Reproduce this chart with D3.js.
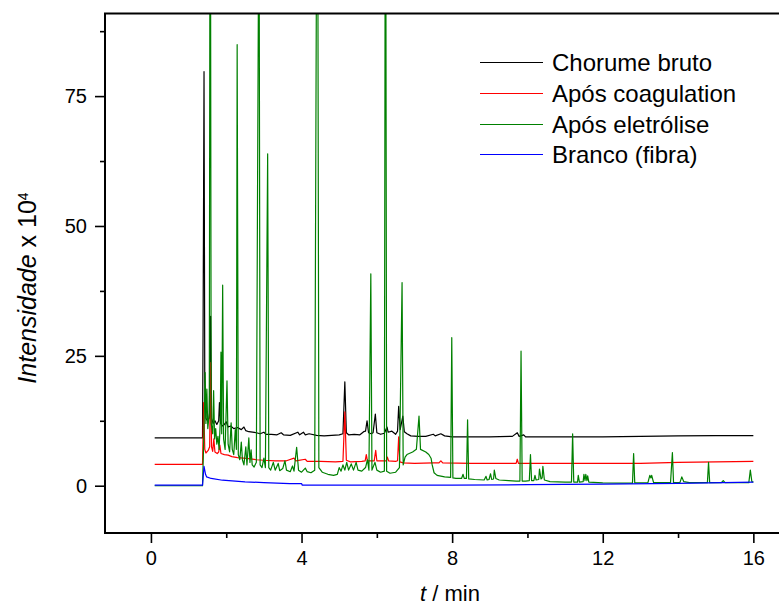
<!DOCTYPE html>
<html>
<head>
<meta charset="utf-8">
<script src="https://cdn.jsdelivr.net/npm/d3@7"></script>
<style>
  body { margin: 0; background: #fff; }
  text { font-family: "Liberation Sans", Arial, sans-serif; }
</style>
</head>
<body>
<div id="chart"></div>
<script>
// chromatogram traces, [t (min), intensity x 10^4]
var chorumeBruto = [
  [0.1,9.2],[1.37,9.2],[1.385,30],[1.41,79.7],[1.43,20],[1.46,13],[1.5,12.5],[1.55,13],[1.585,32.6],[1.61,13],
  [1.65,12],[1.7,12.5],[1.75,11.8],[1.8,12.5],[1.82,16],[1.85,12],[1.9,11.5],[1.95,11.8],[2.0,12.3],[2.05,11.3],
  [2.12,11.5],[2.2,11],[2.3,11.2],[2.4,10.8],[2.47,11.3],[2.52,10.6],[2.6,10.4],[2.7,10.3],[2.8,10.2],[2.9,10],
  [3.0,10.3],[3.05,9.9],[3.2,9.9],[3.35,9.8],[3.46,10.2],[3.52,9.8],[3.7,9.7],[3.9,10.3],[3.95,9.8],[4.05,10.3],
  [4.1,9.8],[4.2,10],[4.4,9.7],[4.6,9.6],[4.8,9.7],[5.0,9.8],[5.1,10],[5.15,20],[5.19,10.2],[5.25,9.8],
  [5.4,9.9],[5.55,9.8],[5.65,10.4],[5.7,10.5],[5.74,12.5],[5.78,10.2],[5.85,10],[5.9,10.2],[5.96,13.8],[6.0,10.2],
  [6.1,9.9],[6.2,10.1],[6.27,11.3],[6.3,10.3],[6.4,10.5],[6.5,9.9],[6.55,10.5],[6.58,15.3],[6.62,10.8],[6.69,13.4],
  [6.73,10.4],[6.8,10],[6.9,9.6],[7.1,9.5],[7.3,9.5],[7.5,9.9],[7.55,9.6],[7.7,10],[7.8,9.6],[8.0,9.4],
  [9.0,9.4],[9.6,9.5],[9.73,10.2],[9.78,9.5],[9.9,9.8],[9.95,9.4],[11,9.4],[12,9.4],[13,9.5],[14,9.6],
  [15,9.65],[16,9.65]
];

var aposCoagulacao = [
  [0.1,4.1],[1.37,4.1],[1.385,10],[1.4,16],[1.43,7],[1.46,6.3],[1.52,6.8],[1.56,7.5],[1.585,23.7],[1.61,7.5],
  [1.64,6.6],[1.67,9],[1.7,6.5],[1.76,6.2],[1.8,6.5],[1.83,7.8],[1.86,6.2],[1.95,6],[2.05,5.9],[2.15,5.6],
  [2.3,5.4],[2.45,5.3],[2.6,5.2],[2.8,5],[3.0,4.9],[3.3,4.8],[3.6,4.8],[3.8,5.3],[3.85,4.8],[4.1,5.1],
  [4.15,4.7],[4.5,4.7],[4.9,4.6],[5.1,4.7],[5.15,14.2],[5.19,4.9],[5.3,4.6],[5.6,4.7],[5.69,4.8],[5.72,6],
  [5.75,4.8],[5.93,4.8],[5.97,6.8],[6.0,4.8],[6.25,4.8],[6.28,5.5],[6.31,4.8],[6.5,4.7],[6.55,4.8],[6.58,9.4],
  [6.61,4.6],[6.7,4.4],[7.0,4.3],[7.5,4.4],[7.65,4.4],[7.7,4.8],[7.75,4.4],[8.5,4.3],[9.7,4.3],[9.73,5.1],
  [9.76,4.3],[11,4.3],[13,4.3],[14,4.5],[15,4.6],[16,4.7]
];

var aposEletrolise = [
  [0.1,0],[1.37,0],[1.4,8],[1.44,21.8],[1.46,12],[1.485,18.6],[1.51,11],[1.55,14],[1.575,150],[1.6,12],
  [1.64,10],[1.665,18.3],[1.69,9],[1.72,11],[1.75,8],[1.78,9.5],[1.81,7],[1.84,12],[1.86,25.7],[1.88,10],
  [1.905,38.6],[1.93,9],[1.97,7],[2.02,20.2],[2.05,8],[2.09,6.5],[2.13,12.1],[2.16,7],[2.2,6],[2.24,10.8],
  [2.27,7],[2.29,84.9],[2.32,6],[2.36,5],[2.4,8.4],[2.43,5],[2.47,4],[2.52,7.5],[2.55,4],[2.6,9.2],
  [2.63,4.5],[2.66,6.9],[2.69,4],[2.74,3.6],[2.8,4.5],[2.87,120],[2.9,4],[2.95,3.5],[3.0,5.3],[3.04,3.5],
  [3.1,63.9],[3.13,3.5],[3.18,3],[3.25,4.5],[3.3,3],[3.38,4.3],[3.42,2.9],[3.5,3.3],[3.56,4.8],[3.6,3],
  [3.7,2.7],[3.76,3.8],[3.8,2.8],[3.87,7.4],[3.92,3],[4.0,2.6],[4.1,3.4],[4.15,2.7],[4.25,2.5],[4.35,3],
  [4.42,150],[4.46,3.5],[4.55,2.6],[4.7,2.2],[4.85,2],[4.95,2.2],[5.0,3.5],[5.05,2.8],[5.1,4],[5.15,3],
  [5.2,4.5],[5.25,3],[5.32,4.2],[5.38,3],[5.45,4.5],[5.5,3],[5.6,2.8],[5.7,3.5],[5.75,5],[5.79,3],
  [5.84,40.8],[5.87,3],[5.95,4.5],[6.0,3],[6.1,2.6],[6.2,2.8],[6.23,150],[6.26,2.8],[6.35,2.4],[6.5,2.6],
  [6.6,3.5],[6.67,39.1],[6.7,4],[6.75,5.5],[6.8,6],[6.95,6.5],[7.05,7],[7.12,13.4],[7.16,7],[7.3,6.5],
  [7.38,6],[7.44,5.3],[7.47,4],[7.52,2.5],[7.6,2],[7.8,1.7],[7.96,1.6],[7.99,28.5],[8.02,1.5],[8.1,1.4],
  [8.25,1.4],[8.29,2.2],[8.32,1.4],[8.38,1.4],[8.41,12.7],[8.44,1.3],[8.6,1.2],[8.85,1.1],[8.9,1.8],[8.93,1.1],
  [8.98,1.2],[9.02,2.3],[9.05,1.2],[9.1,1.3],[9.12,3],[9.16,1.4],[9.25,1.1],[9.5,1],[9.7,0.9],[9.8,0.9],
  [9.83,25.9],[9.86,0.9],[9.95,0.9],[10.05,1],[10.08,6],[10.11,1],[10.17,1],[10.2,2],[10.23,1.1],[10.3,1.2],
  [10.32,3.2],[10.36,1.3],[10.39,1.5],[10.41,3.75],[10.45,1.1],[10.6,0.8],[11.0,0.7],[11.17,0.7],[11.2,10],[11.23,0.7],
  [11.33,0.7],[11.35,2],[11.38,0.7],[11.48,0.8],[11.5,2.2],[11.53,1],[11.55,2.2],[11.58,1],[11.6,1.9],[11.63,0.7],
  [12.0,0.55],[12.5,0.5],[12.79,0.5],[12.82,6.2],[12.85,0.55],[13.2,0.6],[13.25,2],[13.28,1.5],[13.3,2],[13.35,0.6],
  [13.8,0.6],[13.85,6.4],[13.88,0.6],[14.05,0.6],[14.1,1.7],[14.15,0.8],[14.3,0.6],[14.78,0.6],[14.81,4.5],[14.84,0.6],
  [15.15,0.6],[15.2,1],[15.25,0.6],[15.88,0.6],[15.92,3],[15.96,0.8],[16.0,0.7]
];

var brancoFibra = [
  [0.1,0.1],[1.37,0.1],[1.41,3.75],[1.45,2.2],[1.48,1.7],[1.6,1.4],[1.9,1.06],[2.5,0.75],[3.0,0.6],[3.69,0.42],
  [4.0,0.4],[4.02,0.12],[6,0.1],[8,0.12],[10,0.2],[12,0.3],[14,0.45],[16,0.7]
];

var seriesNames = ["Chorume bruto", "Após coagulation", "Após eletrólise", "Branco (fibra)"];
var seriesColors = ["#000000", "#ff0000", "#008000", "#0000ff"];
var xMajorTicks = [0, 4, 8, 12, 16];
var xMinorTicks = [2, 6, 10, 14];
var yMajorTicks = [0, 25, 50, 75];
var yMinorTicks = [12.5, 37.5, 62.5, 87.5];

var W = 779, H = 608;
var plotLeft = 105, plotTop = 13.5, plotBottom = 533, plotRight = 791;

var svg = d3.select("#chart")
  .append("svg")
    .attr("width", W)
    .attr("height", H);

var x = d3.scaleLinear()
  .domain([-1.22, 17])
  .range([plotLeft, plotRight]);

var y = d3.scaleLinear()
  .domain([-9.1, 90.9])
  .range([plotBottom, plotTop]);

// clip the traces to the frame (tall peaks run off the top)
svg.append("defs").append("clipPath")
    .attr("id", "plotclip")
  .append("rect")
    .attr("x", plotLeft)
    .attr("y", plotTop)
    .attr("width", plotRight - plotLeft)
    .attr("height", plotBottom - plotTop);

var line = d3.line()
  .x(function(d) { return x(d[0]) })
  .y(function(d) { return y(d[1]) });

var allSeries = [chorumeBruto, aposCoagulacao, aposEletrolise, brancoFibra];

svg.append("g")
    .attr("clip-path", "url(#plotclip)")
  .selectAll("path")
  .data(allSeries)
  .enter()
  .append("path")
    .attr("fill", "none")
    .attr("stroke", function(d, i) { return seriesColors[i] })
    .attr("stroke-width", 1.2)
    .attr("stroke-linejoin", "round")
    .attr("d", line);

// axes
svg.append("g")
  .attr("transform", "translate(0," + plotBottom + ")")
  .call(d3.axisBottom(x).tickValues(xMajorTicks).tickSize(10).tickSizeOuter(0).tickPadding(8).tickFormat(d3.format("d")));

svg.append("g")
  .attr("transform", "translate(0," + plotBottom + ")")
  .call(d3.axisBottom(x).tickValues(xMinorTicks).tickSize(5).tickFormat(""));

svg.append("g")
  .attr("transform", "translate(" + plotLeft + ",0)")
  .call(d3.axisLeft(y).tickValues(yMajorTicks).tickSize(10).tickSizeOuter(0).tickPadding(8));

svg.append("g")
  .attr("transform", "translate(" + plotLeft + ",0)")
  .call(d3.axisLeft(y).tickValues(yMinorTicks).tickSize(5).tickFormat(""));

svg.selectAll(".domain").remove();
svg.selectAll(".tick line").attr("stroke", "#000").attr("stroke-width", 1.6);
svg.selectAll(".tick text")
  .attr("fill", "#000")
  .style("font-size", "20px")
  .style("font-family", "'Liberation Sans', Arial, sans-serif");

// frame: left, bottom and top (the right side is off the page)
svg.append("path")
  .attr("d", "M" + plotRight + "," + plotTop + "H" + plotLeft + "V" + plotBottom + "H" + plotRight)
  .attr("fill", "none")
  .attr("stroke", "#000")
  .attr("stroke-width", 2);

// axis titles
var xt = svg.append("text")
  .attr("x", 450)
  .attr("y", 601)
  .attr("text-anchor", "middle")
  .style("font-size", "22px");
xt.append("tspan").style("font-style", "italic").text("t");
xt.append("tspan").text(" / min");

var yt = svg.append("text")
  .attr("transform", "translate(36,288) rotate(-90)")
  .attr("text-anchor", "middle")
  .style("font-size", "25px");
yt.append("tspan").style("font-style", "italic").text("Intensidade");
yt.append("tspan").text(" x 10");
yt.append("tspan").attr("dy", "-0.6em").style("font-size", "14px").text("4");

// legend
var legend = svg.selectAll(".legend")
  .data(seriesNames)
  .enter()
  .append("g")
    .attr("class", "legend")
    .attr("transform", function(d, i) { return "translate(480," + (Math.round(61.7 + i * 30.9) + 0.5) + ")" });

legend.append("line")
  .attr("x1", 0)
  .attr("x2", 63)
  .attr("stroke", function(d, i) { return seriesColors[i] })
  .attr("stroke-width", 1.2);

legend.append("text")
  .attr("x", 72)
  .attr("y", 8.5)
  .style("font-size", "24px")
  .text(function(d) { return d });
</script>
</body>
</html>
